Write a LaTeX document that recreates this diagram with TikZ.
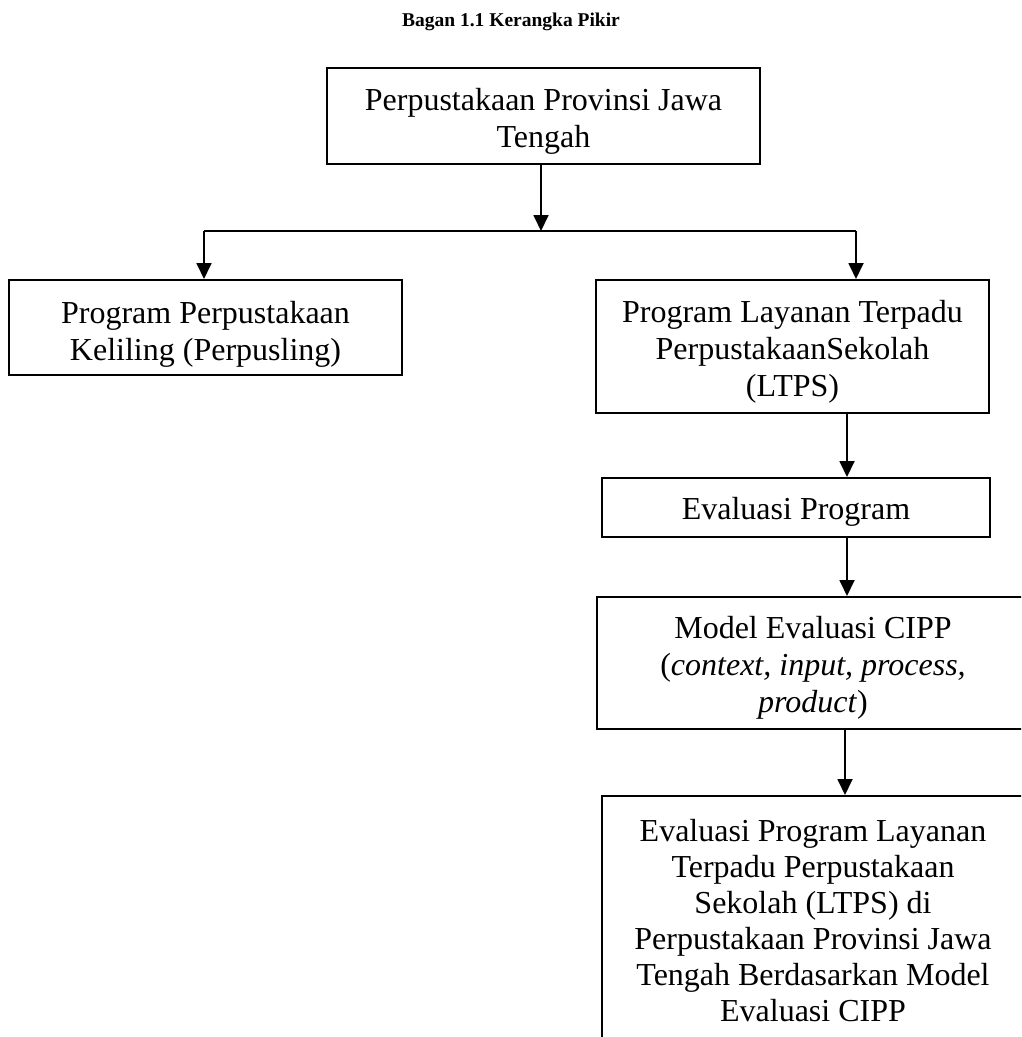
\documentclass[tikz,border=0pt]{standalone}
\usepackage{fontspec}
\setmainfont{Liberation Serif}
\usetikzlibrary{arrows.meta}
\tikzset{
  box/.style={draw=black, line width=2pt, inner sep=0pt, minimum width=#1},
  txt/.style={inner sep=0pt, align=center, font=\fontsize{32}{37}\selectfont},
  arr/.style={line width=1.8pt, -{Triangle[length=16pt,width=15pt]}},
  link/.style={line width=1.8pt}
}
\begin{document}
\begin{tikzpicture}[x=1pt,y=-1pt]
\useasboundingbox (0,0) rectangle (1021,1037);
\clip (0,0) rectangle (1021,1037);
\node[font=\bfseries\fontsize{19.5}{22}\selectfont] (title) at (511,22) {Bagan 1.1 Kerangka Pikir};
% boxes
\node[box=433pt, minimum height=96pt] (top) at (543.5,116) {};
\node[box=393pt, minimum height=95pt] (left) at (205.5,327.5) {};
\node[box=393pt, minimum height=133pt] (right) at (792.5,346.5) {};
\node[box=388pt, minimum height=59pt] (eval) at (796,507.5) {};
\node[box=432pt, minimum height=132pt] (cipp) at (813,663) {};
\node[box=422pt, minimum height=248pt] (final) at (813,920) {};
% texts
\node[txt] (topt) at (543.5,121) {Perpustakaan Provinsi Jawa\\Tengah};
\node[txt] (leftt) at (205.5,334.5) {Program Perpustakaan\\Keliling (Perpusling)};
\node[txt] (rightt) at (792.5,351.5) {Program Layanan Terpadu\\PerpustakaanSekolah\\(LTPS)};
\node[txt] (evalt) at (796,511.5) {Evaluasi Program};
\node[txt] (cippt) at (813,668) {Model Evaluasi CIPP\\(\textit{context, input, process,}\\\textit{product})};
\node[txt, font=\fontsize{32}{36}\selectfont] (finalt) at (813,921) {Evaluasi Program Layanan\\Terpadu Perpustakaan\\Sekolah (LTPS) di\\Perpustakaan Provinsi Jawa\\Tengah Berdasarkan Model\\Evaluasi CIPP};
% connectors
\coordinate (j) at (541,231);
\coordinate (jL) at (204,231);
\coordinate (jR) at (856,231);
\coordinate (c1) at (847,0);
\coordinate (c2) at (845,0);
\draw[arr] (top.south -| j) -- (j);
\draw[link] (jL) -- (jR);
\draw[arr] (jL) -- (left.north -| jL);
\draw[arr] (jR) -- (right.north -| jR);
\draw[arr] (right.south -| c1) -- (eval.north -| c1);
\draw[arr] (eval.south -| c1) -- (cipp.north -| c1);
\draw[arr] (cipp.south -| c2) -- (final.north -| c2);
\end{tikzpicture}
\end{document}
